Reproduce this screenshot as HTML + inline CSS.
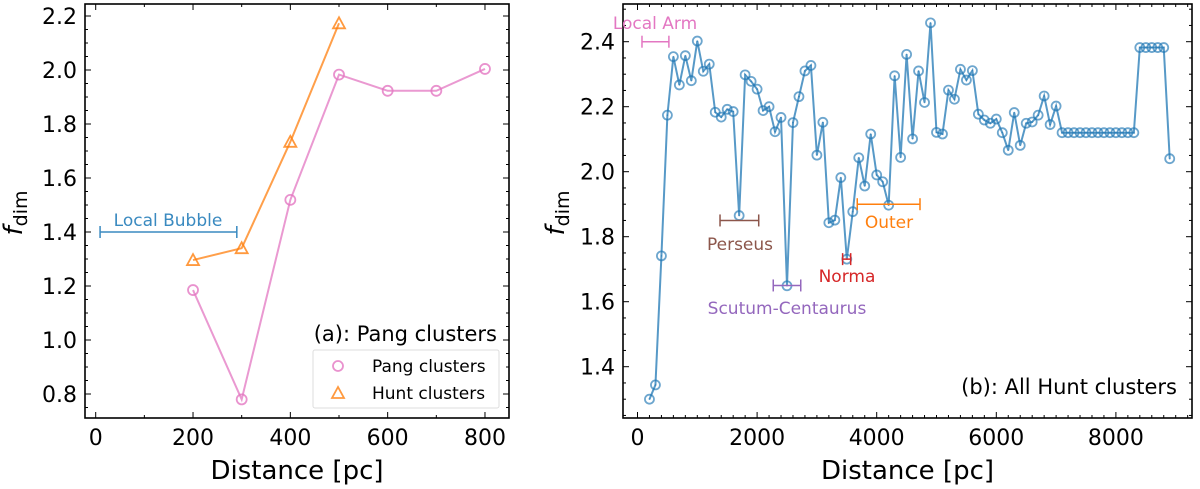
<!DOCTYPE html>
<html><head><meta charset="utf-8"><style>
body{margin:0;background:#fff;}
svg{display:block;font-family:"DejaVu Sans","Liberation Sans",sans-serif;}
</style></head><body>
<svg id="fig" width="1200" height="489" viewBox="0 0 1200 489" xmlns="http://www.w3.org/2000/svg"></svg>
<script>
const pangDist = [200,300,400,500,600,700,800];
const pangVals = [1.185,0.780,1.519,1.983,1.923,1.923,2.004];
const huntDist = [200,300,400,500];
const huntVals = [1.296,1.340,1.734,2.173];
const leftXTicks = [0,200,400,600,800];
const leftYTicks = [0.8,1.0,1.2,1.4,1.6,1.8,2.0,2.2];

const allDist = [200,300,400,500,600,700,800,900,1000,1100,1200,1300,1400,1500,1600,1700,1800,1900,2000,2100,2200,2300,2400,2500,2600,2700,2800,2900,3000,3100,3200,3300,3400,3500,3600,3700,3800,3900,4000,4100,4200,4300,4400,4500,4600,4700,4800,4900,5000,5100,5200,5300,5400,5500,5600,5700,5800,5900,6000,6100,6200,6300,6400,6500,6600,6700,6800,6900,7000,7100,7200,7300,7400,7500,7600,7700,7800,7900,8000,8100,8200,8300,8400,8500,8600,8700,8800,8900];
const allVals = [1.300,1.344,1.741,2.174,2.354,2.267,2.357,2.280,2.402,2.309,2.331,2.183,2.168,2.192,2.185,1.865,2.298,2.278,2.254,2.188,2.200,2.123,2.167,1.649,2.151,2.231,2.310,2.327,2.051,2.152,1.843,1.851,1.982,1.731,1.877,2.043,1.956,2.116,1.990,1.969,1.897,2.295,2.044,2.361,2.101,2.310,2.213,2.458,2.121,2.116,2.251,2.223,2.315,2.282,2.311,2.177,2.159,2.149,2.162,2.120,2.066,2.182,2.081,2.149,2.153,2.174,2.233,2.145,2.202,2.120,2.120,2.120,2.120,2.120,2.120,2.120,2.120,2.120,2.120,2.120,2.120,2.120,2.382,2.382,2.382,2.382,2.382,2.040];
const rightXTicks = [0,2000,4000,6000,8000];
const rightYTicks = [1.4,1.6,1.8,2.0,2.2,2.4];
const armNames = ["Local Arm","Perseus","Scutum-Centaurus","Norma","Outer"];
const armMin = [75,1380,2270,3430,3675];
const armMax = [525,2027,2730,3565,4724];
const armVal = [2.4,1.85,1.65,1.731,1.90];

const NS="http://www.w3.org/2000/svg";
const svg=document.getElementById('fig');
function el(tag,attrs,parent,text){const e=document.createElementNS(NS,tag);for(const k in attrs)e.setAttribute(k,attrs[k]);if(text!==undefined)e.textContent=text;(parent||svg).appendChild(e);return e;}

const L={x0:85,x1:509,y0:4,y1:418};
const lx=d=>95.7+d*0.4866;
const ly=v=>16+(2.2-v)*270;
const R={x0:623,x1:1192,y0:4,y1:418};
const rx=d=>637.5+d*0.0598;
const ry=v=>41.7+(2.4-v)*325;

function axes(P,xf,yf,xt,yt,xmin,xmax,xminor,ymin,ymax,yminor,name,ydec){
  const g=el('g',{});
  
  
  for(let d=Math.ceil(xmin/xminor)*xminor; d<=xmax; d+=xminor){
    const X=xf(d); if(X<P.x0+0.5||X>P.x1-0.5) continue;
    const major=xt.some(t=>Math.abs(t-d)<1e-6);
    const len=major?6:3;
    el('line',{x1:X,x2:X,y1:P.y1,y2:P.y1-len,stroke:'#000','stroke-width':1},g);
    el('line',{x1:X,x2:X,y1:P.y0,y2:P.y0+len,stroke:'#000','stroke-width':1},g);
  }
  for(let i=Math.ceil(ymin/yminor); i*yminor<=ymax+1e-9; i++){
    const v=i*yminor; const Y=yf(v); if(Y<P.y0+0.5||Y>P.y1-0.5) continue;
    const major=yt.some(t=>Math.abs(t-v)<1e-6);
    const len=major?6:3;
    el('line',{x1:P.x0,x2:P.x0+len,y1:Y,y2:Y,stroke:'#000','stroke-width':1},g);
    el('line',{x1:P.x1,x2:P.x1-len,y1:Y,y2:Y,stroke:'#000','stroke-width':1},g);
  }
  xt.forEach(t=>{const tx=el('text',{x:xf(t),y:445,'text-anchor':'middle','font-size':22,fill:'#000'},g,String(t));
    
    });
  yt.forEach(t=>{const tx=el('text',{x:P.x0-8,y:yf(t)+8,'text-anchor':'end','font-size':22,fill:'#000'},g,t.toFixed(1));
    
    });
  const fr=el('rect',{x:P.x0,y:P.y0,width:P.x1-P.x0,height:P.y1-P.y0,fill:'none',stroke:'#000','stroke-width':1.6},g);
  
  
  const xt2=el('text',{x:(P.x0+P.x1)/2,y:479,'text-anchor':'middle','font-size':26,fill:'#000'},g,'Distance [pc]');
  
  
  const yx=P.x0-ydec;
  const yt2=el('text',{transform:`translate(${yx},213) rotate(-90)`,'text-anchor':'middle','font-size':26,fill:'#000'},g);
  
  
  el('tspan',{'font-style':'italic'},yt2,'f');
  el('tspan',{'font-size':19,dy:5},yt2,'dim');
}
axes(L,lx,ly,leftXTicks,leftYTicks,0,850,100,0.7,2.25,0.05,'left',63);
axes(R,rx,ry,rightXTicks,rightYTicks,0,9200,200,1.25,2.5,0.05,'right',59);

function poly(xs,ys,xf,yf,color,name){
  const pts=xs.map((d,i)=>xf(d)+','+yf(ys[i])).join(' ');
  const p=el('polyline',{points:pts,fill:'none',stroke:color,'stroke-width':2,'stroke-opacity':0.75});
  
  
}
poly(pangDist,pangVals,lx,ly,'#e377c2','pang-line');
poly(huntDist,huntVals,lx,ly,'#ff7f0e','hunt-line');
pangDist.forEach((d,i)=>{const c=el('circle',{cx:lx(d),cy:ly(pangVals[i]),r:5,fill:'none',stroke:'#e377c2','stroke-width':1.8,'stroke-opacity':0.8});
  
  });
function tri(cx,cy,s,color,parent){return el('polygon',{points:`${cx},${cy-6} ${cx-6},${cy+5} ${cx+6},${cy+5}`,fill:'none',stroke:color,'stroke-width':1.8,'stroke-opacity':0.8},parent);}
huntDist.forEach((d,i)=>{const t=tri(lx(d),ly(huntVals[i]),6,'#ff7f0e');
  
  });

function errbar(x1,x2,y,color,name){
  const g=el('g',{stroke:color,'stroke-width':1.5});
  
  
  el('line',{x1:x1,x2:x2,y1:y,y2:y},g);
  el('line',{x1:x1,x2:x1,y1:y-6,y2:y+6},g);
  el('line',{x1:x2,x2:x2,y1:y-6,y2:y+6},g);
}
errbar(lx(9),lx(290),ly(1.4),'#3a8ac0','local-bubble-bar');
const lbt=el('text',{x:168,y:226,'text-anchor':'middle','font-size':17,fill:'#3a8ac0'},svg,'Local Bubble');


const at=el('text',{x:497,y:341,'text-anchor':'end','font-size':21,fill:'#000'},svg,'(a): Pang clusters');


const lg=el('g',{});


el('rect',{x:313,y:350,width:186,height:58,rx:2,fill:'#fff',stroke:'#ddd','stroke-width':1},lg);
const le1=el('g',{},lg);


el('circle',{cx:338,cy:366,r:5,fill:'none',stroke:'#e377c2','stroke-width':1.8,'stroke-opacity':0.8},le1);
el('text',{x:372,y:372,'font-size':17,fill:'#000'},le1,'Pang clusters');
const le2=el('g',{},lg);


tri(338,393,6,'#ff7f0e',le2);
el('text',{x:372,y:399,'font-size':17,fill:'#000'},le2,'Hunt clusters');

poly(allDist,allVals,rx,ry,'#1f77b4','all-hunt-line');
allDist.forEach((d,i)=>{const c=el('circle',{cx:rx(d),cy:ry(allVals[i]),r:4.5,fill:'none',stroke:'#1f77b4','stroke-width':1.8,'stroke-opacity':0.65});
  
  
  el('circle',{cx:rx(d),cy:ry(allVals[i]),r:0.8,fill:'#1f77b4','fill-opacity':0.65});});

const armColors=['#e377c2','#8c564b','#9467bd','#d62728','#ff7f0e'];
const armLabelPos=[[655,29],[740,250],[787,314],[847,282],[889,228]];
armNames.forEach((n,i)=>{
  errbar(rx(armMin[i]),rx(armMax[i]),ry(armVal[i]),armColors[i],'arm-bar-'+n.toLowerCase());
  const t=el('text',{x:armLabelPos[i][0],y:armLabelPos[i][1],'text-anchor':'middle','font-size':17,fill:armColors[i]},svg,n);
  
  
});
const bt=el('text',{x:1177,y:394,'text-anchor':'end','font-size':21,fill:'#000'},svg,'(b): All Hunt clusters');


</script>
</body></html>
